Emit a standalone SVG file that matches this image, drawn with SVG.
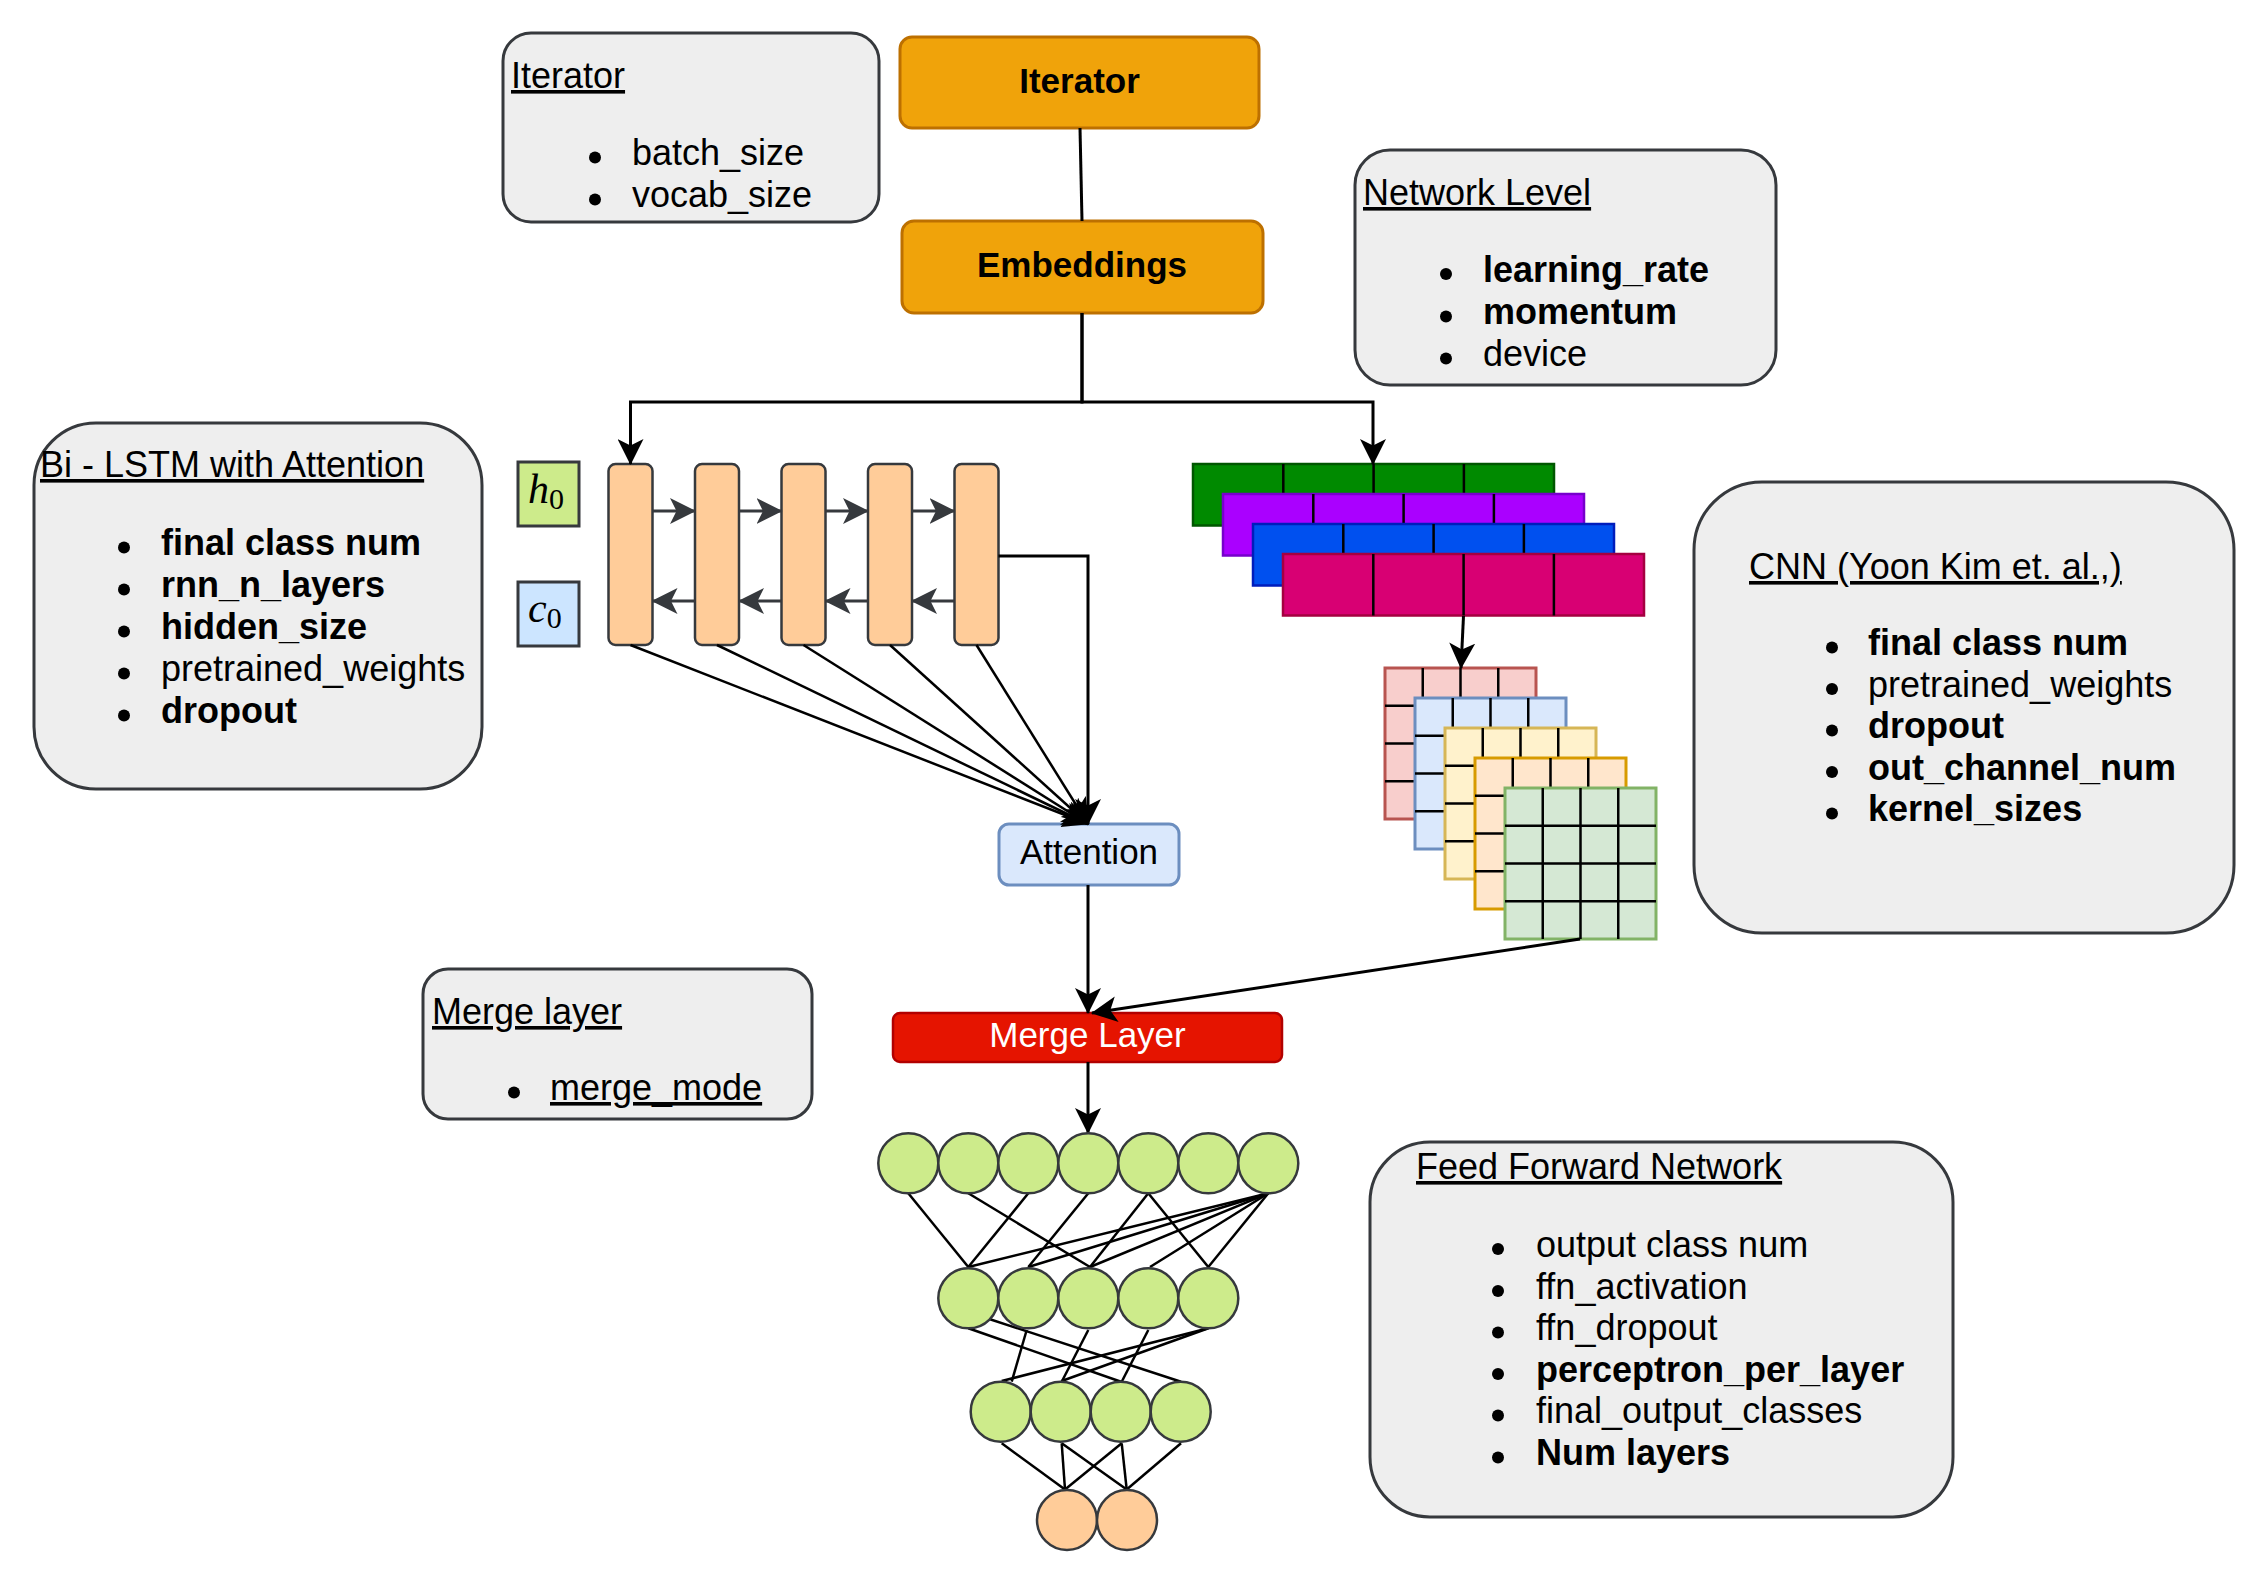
<svg xmlns="http://www.w3.org/2000/svg" xmlns:xlink="http://www.w3.org/1999/xlink" width="2267" height="1582" viewBox="0 0 2267 1582">
<style>
.bg{fill:#ffffff}
.info{fill:#eeeeee;stroke:#36393d;stroke-width:3}
.t{font-family:"Liberation Sans",Arial,Helvetica,sans-serif;font-size:36px;fill:#000}
.n{font-family:"Liberation Sans",Arial,Helvetica,sans-serif;font-size:35px;fill:#000;text-anchor:middle}
.b{font-weight:bold}
.u{text-decoration:underline}
.dot{fill:#000}
.orange{fill:#f0a30a;stroke:#bd7000;stroke-width:3}
.lstm{fill:#ffcc99;stroke:#36393d;stroke-width:2.5}
.neuron{fill:#cdeb8b;stroke:#36393d;stroke-width:2.5}
.out{fill:#ffcc99;stroke:#36393d;stroke-width:2.5}
.conn{stroke:#000;stroke-width:3;fill:none}
.gconn{stroke:#36393d;stroke-width:3;fill:none}
.thin{stroke:#000;stroke-width:2.5;fill:none}
.div{stroke:#000;stroke-width:2.5;fill:none}
.math{font-family:"Liberation Serif","Times New Roman",serif;fill:#000}
</style>
<defs>
<marker id="ah" viewBox="0 0 26 26" refX="25" refY="13" markerWidth="26" markerHeight="26" markerUnits="userSpaceOnUse" orient="auto"><path d="M0,0 L26,13 L0,26 L6.5,13 Z" fill="#000"/></marker>
<marker id="ahg" viewBox="0 0 26 26" refX="25" refY="13" markerWidth="26" markerHeight="26" markerUnits="userSpaceOnUse" orient="auto"><path d="M0,0 L26,13 L0,26 L6.5,13 Z" fill="#36393d"/></marker>
<path id="barDiv" d="M90.3,0 V61.5 M180.6,0 V61.5 M270.9,0 V61.5" class="div"/>
<path id="gridDiv" d="M37.75,0 V151 M75.5,0 V151 M113.25,0 V151 M0,37.75 H151 M0,75.5 H151 M0,113.25 H151" class="div"/>
</defs>
<rect class="bg" x="0" y="0" width="2267" height="1582"/>

<g id="iterator-info">
<rect class="info" x="503" y="33" width="376" height="189" rx="28"/>
<text class="t u" x="511" y="88">Iterator</text>
<circle class="dot" cx="595" cy="157.5" r="6"/>
<text class="t" x="632" y="165">batch_size</text>
<circle class="dot" cx="595" cy="199.5" r="6"/>
<text class="t" x="632" y="207">vocab_size</text>
</g>

<g id="iterator">
<rect class="orange" x="900" y="37" width="359" height="91" rx="12"/>
<text class="n b" x="1079.5" y="93">Iterator</text>
</g>

<g id="embeddings">
<rect class="orange" x="902" y="221" width="361" height="92" rx="12"/>
<text class="n b" x="1082" y="277">Embeddings</text>
</g>

<g id="network-level-info">
<rect class="info" x="1355" y="150" width="421" height="235" rx="35"/>
<text class="t u" x="1363" y="205">Network Level</text>
<circle class="dot" cx="1446" cy="274" r="6"/>
<text class="t b" x="1483" y="281.5">learning_rate</text>
<circle class="dot" cx="1446" cy="316.5" r="6"/>
<text class="t b" x="1483" y="324">momentum</text>
<circle class="dot" cx="1446" cy="358.5" r="6"/>
<text class="t" x="1483" y="366">device</text>
</g>

<g id="bilstm-info">
<rect class="info" x="34" y="423" width="448" height="366" rx="62"/>
<text class="t u" x="40" y="477">Bi - LSTM with Attention</text>
<circle class="dot" cx="124" cy="547.5" r="6"/>
<text class="t b" x="161" y="555">final class num</text>
<circle class="dot" cx="124" cy="589.5" r="6"/>
<text class="t b" x="161" y="597">rnn_n_layers</text>
<circle class="dot" cx="124" cy="631.5" r="6"/>
<text class="t b" x="161" y="639">hidden_size</text>
<circle class="dot" cx="124" cy="673.5" r="6"/>
<text class="t" x="161" y="681">pretrained_weights</text>
<circle class="dot" cx="124" cy="715.5" r="6"/>
<text class="t b" x="161" y="723">dropout</text>
</g>

<g id="h0">
<rect x="518" y="462" width="61" height="64" fill="#cdeb8b" stroke="#36393d" stroke-width="3"/>
<text class="math" x="528" y="503" font-size="42" font-style="italic">h<tspan font-style="normal" font-size="30" dy="6">0</tspan></text>
</g>
<g id="c0">
<rect x="518" y="582" width="61" height="64" fill="#cce5ff" stroke="#36393d" stroke-width="3"/>
<text class="math" x="528" y="622" font-size="42" font-style="italic">c<tspan font-style="normal" font-size="30" dy="6">0</tspan></text>
</g>

<g id="lstm-cells">
<rect class="lstm" x="608.5" y="464" width="44" height="181" rx="7"/>
<rect class="lstm" x="695" y="464" width="44" height="181" rx="7"/>
<rect class="lstm" x="781.5" y="464" width="44" height="181" rx="7"/>
<rect class="lstm" x="868" y="464" width="44" height="181" rx="7"/>
<rect class="lstm" x="954.5" y="464" width="44" height="181" rx="7"/>
</g>

<g id="attention">
<rect x="999" y="824" width="180" height="61" rx="10" fill="#dae8fc" stroke="#6c8ebf" stroke-width="3"/>
<text class="n" x="1089" y="864">Attention</text>
</g>

<g id="cnn-feature-maps">
<rect x="1193" y="464" width="361" height="61.5" fill="#008a00" stroke="#005700" stroke-width="2.5"/>
<use xlink:href="#barDiv" x="1193" y="464"/>
<rect x="1223" y="494" width="361" height="61.5" fill="#aa00ff" stroke="#7700cc" stroke-width="2.5"/>
<use xlink:href="#barDiv" x="1223" y="494"/>
<rect x="1253" y="524" width="361" height="61.5" fill="#0050ef" stroke="#001dbc" stroke-width="2.5"/>
<use xlink:href="#barDiv" x="1253" y="524"/>
<rect x="1283" y="554" width="361" height="61.5" fill="#d80073" stroke="#a50040" stroke-width="2.5"/>
<use xlink:href="#barDiv" x="1283" y="554"/>
</g>

<g id="cnn-filters">
<rect x="1385" y="668" width="151" height="151" fill="#f8cecc" stroke="#b85450" stroke-width="3"/>
<use xlink:href="#gridDiv" x="1385" y="668"/>
<rect x="1415" y="698" width="151" height="151" fill="#dae8fc" stroke="#6c8ebf" stroke-width="3"/>
<use xlink:href="#gridDiv" x="1415" y="698"/>
<rect x="1445" y="728" width="151" height="151" fill="#fff2cc" stroke="#d6b656" stroke-width="3"/>
<use xlink:href="#gridDiv" x="1445" y="728"/>
<rect x="1475" y="758" width="151" height="151" fill="#ffe6cc" stroke="#d79b00" stroke-width="3"/>
<use xlink:href="#gridDiv" x="1475" y="758"/>
<rect x="1505" y="788" width="151" height="151" fill="#d5e8d4" stroke="#82b366" stroke-width="3"/>
<use xlink:href="#gridDiv" x="1505" y="788"/>
</g>

<g id="cnn-info">
<rect class="info" x="1694" y="482" width="540" height="451" rx="68"/>
<text class="t u" x="1749" y="579">CNN (Yoon Kim et. al.,)</text>
<circle class="dot" cx="1832" cy="647.5" r="6"/>
<text class="t b" x="1868" y="655">final class num</text>
<circle class="dot" cx="1832" cy="689" r="6"/>
<text class="t" x="1868" y="696.5">pretrained_weights</text>
<circle class="dot" cx="1832" cy="730.5" r="6"/>
<text class="t b" x="1868" y="738">dropout</text>
<circle class="dot" cx="1832" cy="772" r="6"/>
<text class="t b" x="1868" y="779.5">out_channel_num</text>
<circle class="dot" cx="1832" cy="813.5" r="6"/>
<text class="t b" x="1868" y="821">kernel_sizes</text>
</g>

<g id="merge-info">
<rect class="info" x="423" y="969" width="389" height="150" rx="25"/>
<text class="t u" x="432" y="1024">Merge layer</text>
<circle class="dot" cx="514" cy="1092.5" r="6"/>
<text class="t u" x="550" y="1100">merge_mode</text>
</g>

<g id="merge-layer">
<rect x="893" y="1013" width="389" height="49" rx="7" fill="#e51400" stroke="#b20000" stroke-width="2.5"/>
<text class="n" x="1087.5" y="1047" fill="#ffffff" style="fill:#ffffff">Merge Layer</text>
</g>

<g id="ffn-info">
<rect class="info" x="1370" y="1142" width="583" height="375" rx="60"/>
<text class="t u" x="1416" y="1179">Feed Forward Network</text>
<circle class="dot" cx="1498" cy="1249" r="6"/>
<text class="t" x="1536" y="1256.5">output class num</text>
<circle class="dot" cx="1498" cy="1291" r="6"/>
<text class="t" x="1536" y="1298.5">ffn_activation</text>
<circle class="dot" cx="1498" cy="1332.5" r="6"/>
<text class="t" x="1536" y="1340">ffn_dropout</text>
<circle class="dot" cx="1498" cy="1374" r="6"/>
<text class="t b" x="1536" y="1381.5">perceptron_per_layer</text>
<circle class="dot" cx="1498" cy="1415.5" r="6"/>
<text class="t" x="1536" y="1423">final_output_classes</text>
<circle class="dot" cx="1498" cy="1457.5" r="6"/>
<text class="t b" x="1536" y="1465">Num layers</text>
</g>

<g id="connectors">
<path class="conn" d="M1080,128 L1082,221"/>
<path class="conn" d="M1082,313 V402 H630.5 V464" marker-end="url(#ah)"/>
<path class="conn" d="M1082,313 V402 H1373 V464" marker-end="url(#ah)"/>
<path class="gconn" d="M652.5,511 H695" marker-end="url(#ahg)"/>
<path class="gconn" d="M739,511 H781.5" marker-end="url(#ahg)"/>
<path class="gconn" d="M825.5,511 H868" marker-end="url(#ahg)"/>
<path class="gconn" d="M912,511 H954.5" marker-end="url(#ahg)"/>
<path class="gconn" d="M695,601 H652.5" marker-end="url(#ahg)"/>
<path class="gconn" d="M781.5,601 H739" marker-end="url(#ahg)"/>
<path class="gconn" d="M868,601 H825.5" marker-end="url(#ahg)"/>
<path class="gconn" d="M954.5,601 H912" marker-end="url(#ahg)"/>
<path class="conn" d="M998.5,556 H1088 V824" marker-end="url(#ah)"/>
<path class="thin" d="M630.5,645 L1088,824" marker-end="url(#ah)"/>
<path class="thin" d="M717,645 L1088,824" marker-end="url(#ah)"/>
<path class="thin" d="M803.5,645 L1088,824" marker-end="url(#ah)"/>
<path class="thin" d="M890,645 L1088,824" marker-end="url(#ah)"/>
<path class="thin" d="M976.5,645 L1088,824" marker-end="url(#ah)"/>
<path class="conn" d="M1463.5,616 L1461,668" marker-end="url(#ah)"/>
<path class="conn" d="M1088,885 V1013" marker-end="url(#ah)"/>
<path class="conn" d="M1580,939 L1092,1013" marker-end="url(#ah)"/>
<path class="conn" d="M1088,1062 V1133" marker-end="url(#ah)"/>
<g class="thin">
<path d="M908.3,1193.3 L968.3,1267"/>
<path d="M968.3,1193.3 L1090,1267"/>
<path d="M1028.3,1193.3 L968.3,1267"/>
<path d="M1088.3,1193.3 L1028.3,1267"/>
<path d="M1148.3,1193.3 L1090,1267"/>
<path d="M1148.3,1193.3 L1208.3,1267"/>
<path d="M1268.3,1193.3 L968.3,1267"/>
<path d="M1268.3,1193.3 L1028.3,1267"/>
<path d="M1268.3,1193.3 L1090,1267"/>
<path d="M1268.3,1193.3 L1150,1267"/>
<path d="M1268.3,1193.3 L1208.3,1267"/>
<path d="M968.3,1328.3 L1121,1381.7"/>
<path d="M990,1319.3 L1181,1381.7"/>
<path d="M1026.7,1330 L1011.7,1381.7"/>
<path d="M1088.3,1330 L1061.7,1381.7"/>
<path d="M1148.3,1330 L1121.7,1381.7"/>
<path d="M1208.3,1328.3 L1001.7,1381"/>
<path d="M1208.3,1328.3 L1061.7,1381"/>
<path d="M1001.7,1443.3 L1065,1489.5"/>
<path d="M1061.7,1443.3 L1065,1489.5"/>
<path d="M1061.7,1443.3 L1126.7,1489.5"/>
<path d="M1121.7,1443.3 L1065,1489.5"/>
<path d="M1121.7,1443.3 L1126.7,1489.5"/>
<path d="M1181,1443.3 L1126.7,1489.5"/>
</g>
</g>

<g id="ffn-nodes">
<circle class="neuron" cx="908.3" cy="1163.3" r="30"/>
<circle class="neuron" cx="968.3" cy="1163.3" r="30"/>
<circle class="neuron" cx="1028.3" cy="1163.3" r="30"/>
<circle class="neuron" cx="1088.3" cy="1163.3" r="30"/>
<circle class="neuron" cx="1148.3" cy="1163.3" r="30"/>
<circle class="neuron" cx="1208.3" cy="1163.3" r="30"/>
<circle class="neuron" cx="1268.3" cy="1163.3" r="30"/>
<circle class="neuron" cx="968.3" cy="1298.3" r="30"/>
<circle class="neuron" cx="1028.3" cy="1298.3" r="30"/>
<circle class="neuron" cx="1088.3" cy="1298.3" r="30"/>
<circle class="neuron" cx="1148.3" cy="1298.3" r="30"/>
<circle class="neuron" cx="1208.3" cy="1298.3" r="30"/>
<circle class="neuron" cx="1000.7" cy="1411.7" r="30"/>
<circle class="neuron" cx="1060.7" cy="1411.7" r="30"/>
<circle class="neuron" cx="1120.7" cy="1411.7" r="30"/>
<circle class="neuron" cx="1180.7" cy="1411.7" r="30"/>
<circle class="out" cx="1067" cy="1520" r="30"/>
<circle class="out" cx="1127" cy="1520" r="30"/>
</g>
</svg>
